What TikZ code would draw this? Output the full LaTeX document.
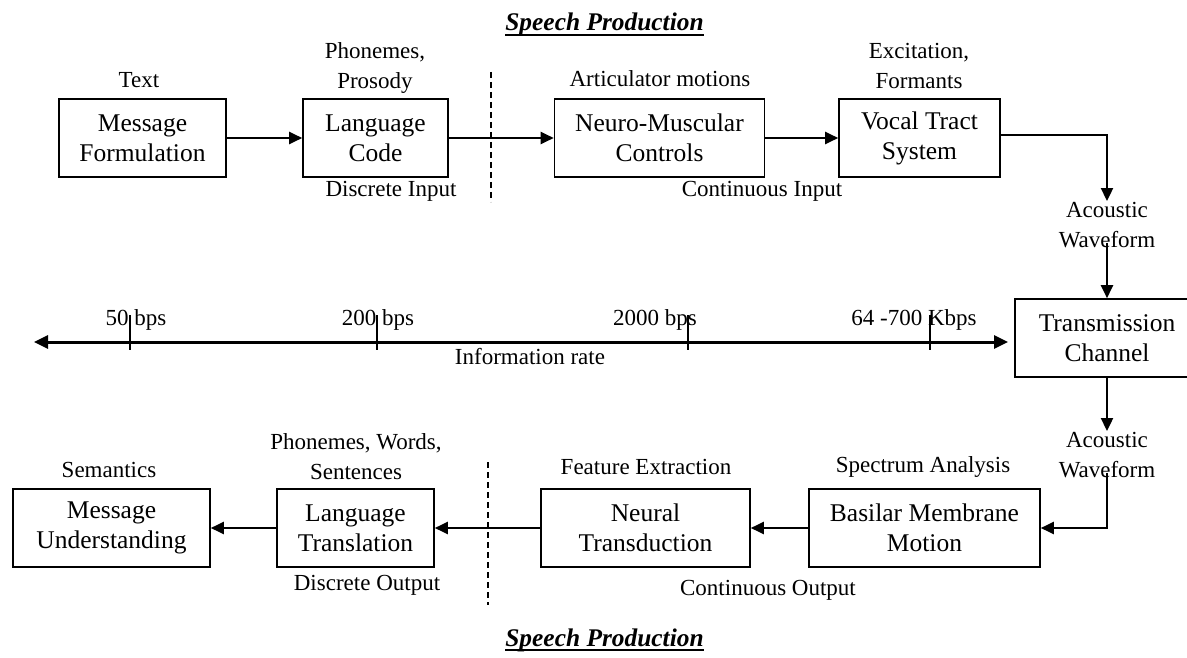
\documentclass[tikz,border=0pt]{standalone}
\usepackage{fontspec}
\setmainfont{Liberation Serif}
\usetikzlibrary{arrows.meta}
\begin{document}
\begin{tikzpicture}[x=1pt,y=-1pt,
  blk/.style={draw, line width=1.6pt, minimum height=78pt, inner sep=0pt, align=center,
              font=\fontsize{25.5}{30}\selectfont},
  lbl/.style={inner sep=1pt, align=center, font=\fontsize{23}{30}\selectfont},
  ttl/.style={inner sep=0pt, font=\fontsize{25.4}{30}\selectfont\bfseries\itshape},
  flow/.style={line width=2.3pt, -{Triangle[length=13pt,width=12pt]}},
  divider/.style={line width=1.3pt, dash pattern=on 6pt off 4pt},
  tickmark/.style={line width=1.3pt},
  rateaxis/.style={line width=3pt, {Triangle[length=14pt,width=13pt]}-{Triangle[length=14pt,width=13pt]}}]

\useasboundingbox (0,0) rectangle (1187,658);

% ---- titles ----
\node[ttl, anchor=base] (ttop) at (604.5,31) {Speech Production};
\draw[line width=1.8pt] ([yshift=-4pt]ttop.base west) -- ([yshift=-4pt]ttop.base east);
\node[ttl, anchor=base] (tbot) at (604.5,646) {Speech Production};
\draw[line width=1.8pt] ([yshift=-4pt]tbot.base west) -- ([yshift=-4pt]tbot.base east);

% ---- production chain ----
\node[blk, minimum width=167pt] (mf) at (142.5,138) {Message\\Formulation};
\node[blk, minimum width=145pt] (lc) at (375.5,138) {Language\\Code};
\node[blk, minimum width=210pt] (nm) at (659.5,138) {Neuro-Muscular\\Controls};
\node[blk, minimum width=161pt] (vt) at (919.5,138) {Vocal Tract\\System};

\node[lbl] (ltext) at (139,80) {Text};
\node[lbl] (lphon) at (375,68) {Phonemes,\\Prosody};
\node[lbl] (ldi)   at (391,191) {Discrete Input};
\node[lbl] (lart)  at (660,79) {Articulator motions};
\node[lbl] (lexc)  at (919,66) {Excitation,\\Formants};
\node[lbl] (lci)   at (762,191) {Continuous Input};
\node[lbl] (law1)  at (1107,225) {Acoustic\\Waveform};

\draw[flow] (mf.east) -- (lc.west);
\draw[flow] (lc.east) -- (nm.west);
\draw[flow] (nm.east) -- (vt.west);
\draw[flow] ([yshift=3pt]vt.east) -| (law1.north);

\coordinate (d1a) at (491,72);
\coordinate (d1b) at (491,202);
\draw[divider] (d1a) -- (d1b);

% ---- channel ----
\node[blk, minimum width=184pt] (tc) at (1107,338) {Transmission\\Channel};
\draw[flow] ([yshift=6pt]law1.south) -- (tc.north);

% ---- information rate axis ----
\coordinate (axl) at (34,342);
\coordinate (axr) at (1008,342);
\draw[rateaxis] (axl) -- (axr);
\coordinate (t1a) at (130,315);  \coordinate (t1b) at (130,350);
\coordinate (t2a) at (377,315);  \coordinate (t2b) at (377,350);
\coordinate (t3a) at (688,315);  \coordinate (t3b) at (688,350);
\coordinate (t4a) at (930,315);  \coordinate (t4b) at (930,350);
\draw[tickmark] (t1a) -- (t1b);
\draw[tickmark] (t2a) -- (t2b);
\draw[tickmark] (t3a) -- (t3b);
\draw[tickmark] (t4a) -- (t4b);
\node[lbl] (r1) at (136,320) {50 bps};
\node[lbl] (r2) at (378,320) {200 bps};
\node[lbl] (r3) at (655,320) {2000 bps};
\node[lbl] (r4) at (914,320) {64 -700 Kbps};
\node[lbl] (rlab) at (530,357) {Information rate};

% ---- perception chain ----
\node[blk, minimum width=231pt] (bm) at (924.5,528) {Basilar Membrane\\Motion};
\node[blk, minimum width=209pt] (nt) at (645.5,528) {Neural\\Transduction};
\node[blk, minimum width=157pt] (lt) at (355.5,528) {Language\\Translation};
\node[blk, minimum width=197pt] (mu) at (111.5,528) {Message\\Understanding};

\node[lbl] (law2) at (1107,455) {Acoustic\\Waveform};
\node[lbl] (lsem) at (109,470) {Semantics};
\node[lbl] (lpw)  at (356,457) {Phonemes, Words,\\Sentences};
\node[lbl] (ldo)  at (367,585) {Discrete Output};
\node[lbl] (lfe)  at (646,467) {Feature Extraction};
\node[lbl] (lsa)  at (923,467) {Spectrum Analysis};
\node[lbl] (lco)  at (768,590) {Continuous Output};

\draw[flow] (tc.south) -- (law2.north);
\draw[flow] ([yshift=6pt]law2.south) |- (bm.east);
\draw[flow] (bm.west) -- (nt.east);
\draw[flow] (nt.west) -- (lt.east);
\draw[flow] (lt.west) -- (mu.east);

\coordinate (d2a) at (488,462);
\coordinate (d2b) at (488,605);
\draw[divider] (d2a) -- (d2b);

\end{tikzpicture}
\end{document}
